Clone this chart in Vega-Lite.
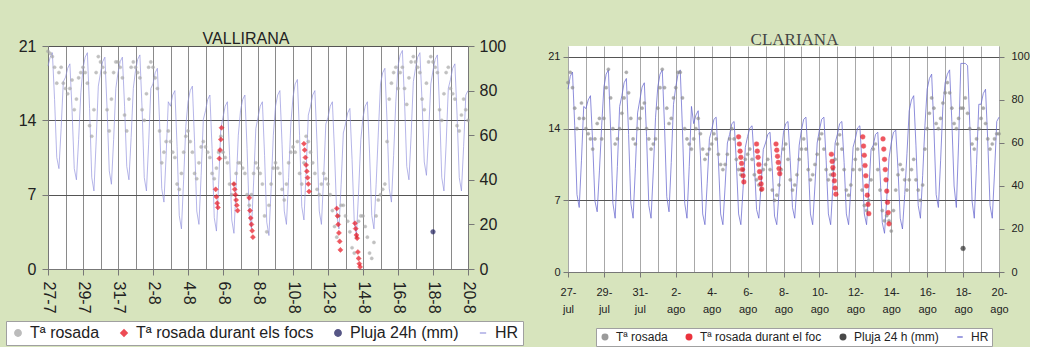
{
"$schema": "https://vega.github.io/schema/vega-lite/v6.json",
"background": "#d7e4bd",
"padding": {"left": 5, "top": 31, "right": 0, "bottom": 0},
"spacing": 23,
"datasets": {
"L": [
{"t":"072700","d":20.5,"h":91},{"t":"072703","d":20.3,"h":95},{"t":"072706","d":20,"h":97},{"t":"072709","d":19,"h":76},{"t":"072712","d":17.5,"h":50},{"t":"072715","d":18.5,"h":45},{"t":"072718","d":19,"h":63},{"t":"072721","d":17.5,"h":84},
{"t":"072800","d":17,"h":86},{"t":"072803","d":16.5,"h":90},{"t":"072806","d":17,"h":92},{"t":"072809","d":17.8,"h":71},{"t":"072812","d":15,"h":45},{"t":"072815","d":16,"h":40},{"t":"072818","d":18,"h":58},{"t":"072821","d":18.5,"h":79},
{"t":"072900","d":19,"h":90},{"t":"072903","d":18.5,"h":95},{"t":"072906","d":17.5,"h":97},{"t":"072909","d":13.5,"h":72},{"t":"072912","d":12.5,"h":41},{"t":"072915","d":15,"h":35},{"t":"072918","d":18.5,"h":57},{"t":"072921","d":20,"h":82},
{"t":"073000","d":19.5,"h":88},{"t":"073003","d":19,"h":93},{"t":"073006","d":18.5,"h":95},{"t":"073009","d":15,"h":72},{"t":"073012","d":13,"h":44},{"t":"073015","d":16,"h":38},{"t":"073018","d":18.5,"h":58},{"t":"073021","d":19.5,"h":81},
{"t":"073100","d":19.5,"h":88},{"t":"073103","d":19,"h":93},{"t":"073106","d":18,"h":95},{"t":"073109","d":14.5,"h":73},{"t":"073112","d":13,"h":46},{"t":"073115","d":16,"h":40},{"t":"073118","d":19,"h":59},{"t":"073121","d":19.5,"h":81},
{"t":"080100","d":19,"h":89},{"t":"080103","d":18.5,"h":94},{"t":"080106","d":18,"h":96},{"t":"080109","d":15,"h":72},{"t":"080112","d":14,"h":41},{"t":"080115","d":16.5,"h":35},{"t":"080118","d":19,"h":56},{"t":"080121","d":19.5,"h":81},
{"t":"080200","d":19,"h":83},{"t":"080203","d":18,"h":88},{"t":"080206","d":17,"h":90},{"t":"080209","d":13,"h":66},{"t":"080212","d":10,"h":36},{"t":"080215","d":11,"h":30},{"t":"080218","d":12,"h":51},{"t":"080221","d":13,"h":75},
{"t":"080300","d":12,"h":73},{"t":"080303","d":11,"h":78},{"t":"080306","d":10.5,"h":80},{"t":"080309","d":8,"h":55},{"t":"080312","d":7.5,"h":24},{"t":"080315","d":9,"h":18},{"t":"080318","d":11,"h":40},{"t":"080321","d":12.5,"h":64},
{"t":"080400","d":13,"h":75},{"t":"080403","d":12,"h":80},{"t":"080406","d":11,"h":82},{"t":"080409","d":9,"h":57},{"t":"080412","d":8.5,"h":26},{"t":"080415","d":10,"h":20},{"t":"080418","d":11.5,"h":42},{"t":"080421","d":12,"h":67},
{"t":"080500","d":11.5,"h":71},{"t":"080503","d":11,"h":76},{"t":"080506","d":10.5,"h":78},{"t":"080509","d":9,"h":54},{"t":"080512","d":8.5,"h":23},{"t":"080515","d":9.5,"h":17},{"t":"080518","d":11,"h":38},{"t":"080521","d":12.5,"h":63},
{"t":"080600","d":11,"h":68},{"t":"080603","d":10.5,"h":73},{"t":"080606","d":10,"h":75},{"t":"080609","d":8,"h":51},{"t":"080612","d":7,"h":22},{"t":"080615","d":8,"h":16},{"t":"080618","d":9,"h":37},{"t":"080621","d":10,"h":60},
{"t":"080700","d":10,"h":71},{"t":"080703","d":9.5,"h":76},{"t":"080706","d":9,"h":78},{"t":"080709","d":7,"h":54},{"t":"080712","d":6,"h":24},{"t":"080715","d":7,"h":18},{"t":"080718","d":9,"h":39},{"t":"080721","d":10,"h":63},
{"t":"080800","d":9.5,"h":68},{"t":"080803","d":9,"h":73},{"t":"080806","d":8,"h":75},{"t":"080809","d":5,"h":51},{"t":"080812","d":3.5,"h":21},{"t":"080815","d":6,"h":15},{"t":"080818","d":8,"h":36},{"t":"080821","d":9.5,"h":60},
{"t":"080900","d":10,"h":73},{"t":"080903","d":9.5,"h":78},{"t":"080906","d":9,"h":80},{"t":"080909","d":7.5,"h":56},{"t":"080912","d":6.5,"h":26},{"t":"080915","d":8,"h":20},{"t":"080918","d":10,"h":41},{"t":"080921","d":11,"h":65},
{"t":"081000","d":11.5,"h":77},{"t":"081003","d":11,"h":83},{"t":"081006","d":12,"h":85},{"t":"081009","d":9,"h":60},{"t":"081012","d":8,"h":28},{"t":"081015","d":10,"h":22},{"t":"081018","d":12.5,"h":44},{"t":"081021","d":12,"h":69},
{"t":"081100","d":11,"h":73},{"t":"081103","d":10,"h":78},{"t":"081106","d":9,"h":80},{"t":"081109","d":7.5,"h":56},{"t":"081112","d":7,"h":26},{"t":"081115","d":8,"h":20},{"t":"081118","d":9,"h":41},{"t":"081121","d":8.5,"h":65},
{"t":"081200","d":8,"h":68},{"t":"081203","d":7,"h":73},{"t":"081206","d":5.5,"h":75},{"t":"081209","d":4,"h":52},{"t":"081212","d":3,"h":24},{"t":"081215","d":5,"h":18},{"t":"081218","d":6,"h":38},{"t":"081221","d":6,"h":61},
{"t":"081300","d":5,"h":65},{"t":"081303","d":4.5,"h":70},{"t":"081306","d":3.5,"h":72},{"t":"081309","d":2,"h":49},{"t":"081312","d":1.5,"h":21},{"t":"081315","d":3,"h":15},{"t":"081318","d":4.5,"h":35},{"t":"081321","d":5,"h":58},
{"t":"081400","d":5,"h":68},{"t":"081403","d":4,"h":73},{"t":"081406","d":3,"h":75},{"t":"081409","d":1.5,"h":52},{"t":"081412","d":1,"h":24},{"t":"081415","d":2.5,"h":18},{"t":"081418","d":5,"h":38},{"t":"081421","d":6.5,"h":61},
{"t":"081500","d":7,"h":83},{"t":"081503","d":7.5,"h":88},{"t":"081506","d":8,"h":90},{"t":"081509","d":12,"h":66},{"t":"081512","d":16,"h":36},{"t":"081515","d":17.5,"h":30},{"t":"081518","d":18.5,"h":51},{"t":"081521","d":19,"h":75},
{"t":"081600","d":17,"h":91},{"t":"081603","d":18.5,"h":96},{"t":"081606","d":19,"h":98},{"t":"081609","d":17,"h":75},{"t":"081612","d":15.5,"h":46},{"t":"081615","d":18,"h":40},{"t":"081618","d":19.5,"h":60},{"t":"081621","d":20,"h":84},
{"t":"081700","d":19.5,"h":90},{"t":"081703","d":19,"h":95},{"t":"081706","d":18.5,"h":97},{"t":"081709","d":16,"h":75},{"t":"081712","d":15,"h":48},{"t":"081715","d":17.5,"h":42},{"t":"081718","d":19.5,"h":61},{"t":"081721","d":20,"h":83},
{"t":"081800","d":19.5,"h":89},{"t":"081803","d":19,"h":94},{"t":"081806","d":18.5,"h":96},{"t":"081809","d":15,"h":72},{"t":"081812","d":14,"h":41},{"t":"081815","d":16.5,"h":35},{"t":"081818","d":18.5,"h":56},{"t":"081821","d":19,"h":81},
{"t":"081900","d":17,"h":85},{"t":"081903","d":16.5,"h":90},{"t":"081906","d":16,"h":92},{"t":"081909","d":13.5,"h":69},{"t":"081912","d":13,"h":41},{"t":"081915","d":14.5,"h":35},{"t":"081918","d":16,"h":55},{"t":"081921","d":15,"h":78},
{"t":"082000","d":14,"h":80},
{"t":"080514","d":7.5,"s":"f"},{"t":"080515","d":6.8,"s":"f"},{"t":"080516","d":6.2,"s":"f"},{"t":"080517","d":5.8,"s":"f"},{"t":"080519","d":10.4,"s":"f"},{"t":"080520","d":11.2,"s":"f"},{"t":"080521","d":12.2,"s":"f"},{"t":"080522","d":13.3,"s":"f"},
{"t":"080615","d":8.0,"s":"f"},{"t":"080616","d":7.5,"s":"f"},{"t":"080617","d":7.0,"s":"f"},{"t":"080618","d":6.5,"s":"f"},{"t":"080619","d":6.0,"s":"f"},{"t":"080620","d":5.5,"s":"f"},
{"t":"080712","d":6.7,"s":"f"},{"t":"080713","d":5.5,"s":"f"},{"t":"080714","d":4.8,"s":"f"},{"t":"080715","d":4.2,"s":"f"},{"t":"080716","d":3.6,"s":"f"},{"t":"080717","d":3.0,"s":"f"},
{"t":"081015","d":11.8,"s":"f"},{"t":"081016","d":11.2,"s":"f"},{"t":"081017","d":10.5,"s":"f"},{"t":"081018","d":9.8,"s":"f"},{"t":"081019","d":9.2,"s":"f"},{"t":"081020","d":8.6,"s":"f"},{"t":"081021","d":8.0,"s":"f"},{"t":"081022","d":7.3,"s":"f"},
{"t":"081212","d":5.7,"s":"f"},{"t":"081213","d":5.0,"s":"f"},{"t":"081214","d":4.2,"s":"f"},{"t":"081215","d":3.4,"s":"f"},{"t":"081216","d":2.6,"s":"f"},{"t":"081217","d":1.8,"s":"f"},
{"t":"081313","d":4.3,"s":"f"},{"t":"081314","d":3.8,"s":"f"},{"t":"081315","d":3.2,"s":"f"},{"t":"081316","d":2.9,"s":"f"},{"t":"081317","d":1.6,"s":"f"},{"t":"081318","d":1.0,"s":"f"},{"t":"081319","d":0.5,"s":"f"},{"t":"081320","d":0.2,"s":"f"},
{"t":"081800","d":3.5,"s":"p"}
],
"R": [
{"t":"072700","d":18.5,"h":85},{"t":"072703","d":19.5,"h":91},{"t":"072706","d":18,"h":93},{"t":"072709","d":16,"h":68},{"t":"072712","d":14,"h":36},{"t":"072715","d":15,"h":30},{"t":"072718","d":16.5,"h":52},{"t":"072721","d":15,"h":77},
{"t":"072800","d":14,"h":76},{"t":"072803","d":13.5,"h":80},{"t":"072806","d":13,"h":82},{"t":"072809","d":12,"h":60},{"t":"072812","d":13,"h":33},{"t":"072815","d":14.5,"h":28},{"t":"072818","d":15,"h":47},{"t":"072821","d":13,"h":68},
{"t":"072900","d":15,"h":86},{"t":"072903","d":18,"h":92},{"t":"072906","d":19.8,"h":94},{"t":"072909","d":17,"h":66},{"t":"072912","d":14,"h":32},{"t":"072915","d":12.5,"h":25},{"t":"072918","d":13,"h":49},{"t":"072921","d":14,"h":77},
{"t":"073000","d":15.5,"h":82},{"t":"073003","d":17,"h":88},{"t":"073006","d":19.5,"h":90},{"t":"073009","d":17.5,"h":64},{"t":"073012","d":15,"h":32},{"t":"073015","d":13,"h":25},{"t":"073018","d":12.5,"h":48},{"t":"073021","d":14,"h":74},
{"t":"073100","d":15,"h":80},{"t":"073103","d":16,"h":86},{"t":"073106","d":16.5,"h":88},{"t":"073109","d":14,"h":63},{"t":"073112","d":13,"h":31},{"t":"073115","d":12,"h":25},{"t":"073118","d":12.5,"h":47},{"t":"073121","d":13,"h":72},
{"t":"080100","d":16,"h":86},{"t":"080103","d":18,"h":92},{"t":"080106","d":19.8,"h":94},{"t":"080109","d":18,"h":68},{"t":"080112","d":16,"h":35},{"t":"080115","d":14.5,"h":28},{"t":"080118","d":15,"h":51},{"t":"080121","d":17,"h":78},
{"t":"080200","d":18,"h":86},{"t":"080203","d":19.5,"h":92},{"t":"080206","d":19.5,"h":94},{"t":"080209","d":17,"h":66},{"t":"080212","d":14,"h":32},{"t":"080215","d":13,"h":25},{"t":"080218","d":12.5,"h":49},{"t":"080221","d":12,"h":77},
{"t":"080300","d":13,"h":69},{"t":"080303","d":14,"h":73},{"t":"080306","d":15,"h":75},{"t":"080309","d":13.5,"h":54},{"t":"080312","d":12,"h":27},{"t":"080315","d":11,"h":22},{"t":"080318","d":11.5,"h":41},{"t":"080321","d":12,"h":62},
{"t":"080400","d":12.5,"h":66},{"t":"080403","d":13.5,"h":71},{"t":"080406","d":13,"h":72},{"t":"080409","d":11.5,"h":52},{"t":"080412","d":10.5,"h":27},{"t":"080415","d":10,"h":22},{"t":"080418","d":10.5,"h":40},{"t":"080421","d":11.5,"h":60},
{"t":"080500","d":13,"h":64},{"t":"080503","d":14,"h":69},{"t":"080506","d":13,"h":70},{"t":"080509","d":11,"h":51},{"t":"080512","d":10,"h":27},{"t":"080515","d":9.5,"h":22},{"t":"080518","d":10,"h":39},{"t":"080521","d":11,"h":58},
{"t":"080600","d":11.5,"h":63},{"t":"080603","d":12,"h":67},{"t":"080606","d":11,"h":68},{"t":"080609","d":9.5,"h":51},{"t":"080612","d":9,"h":29},{"t":"080615","d":8.5,"h":25},{"t":"080618","d":8,"h":40},{"t":"080621","d":10,"h":57},
{"t":"080700","d":10.5,"h":60},{"t":"080703","d":11,"h":64},{"t":"080706","d":10,"h":65},{"t":"080709","d":8,"h":48},{"t":"080712","d":7,"h":26},{"t":"080715","d":7.5,"h":22},{"t":"080718","d":8.5,"h":37},{"t":"080721","d":10,"h":54},
{"t":"080800","d":12,"h":65},{"t":"080803","d":12.5,"h":69},{"t":"080806","d":11,"h":70},{"t":"080809","d":9,"h":52},{"t":"080812","d":8,"h":30},{"t":"080815","d":8.5,"h":25},{"t":"080818","d":9.5,"h":41},{"t":"080821","d":11,"h":59},
{"t":"080900","d":12,"h":66},{"t":"080903","d":13,"h":71},{"t":"080906","d":12,"h":72},{"t":"080909","d":10,"h":52},{"t":"080912","d":9,"h":27},{"t":"080915","d":9.5,"h":22},{"t":"080918","d":10.5,"h":40},{"t":"080921","d":11.5,"h":60},
{"t":"081000","d":13,"h":66},{"t":"081003","d":13.5,"h":71},{"t":"081006","d":12,"h":72},{"t":"081009","d":10,"h":52},{"t":"081012","d":9,"h":27},{"t":"081015","d":9.5,"h":22},{"t":"081018","d":10,"h":40},{"t":"081021","d":11,"h":60},
{"t":"081100","d":12.5,"h":64},{"t":"081103","d":13.4,"h":69},{"t":"081106","d":12,"h":70},{"t":"081109","d":10,"h":51},{"t":"081112","d":8,"h":27},{"t":"081115","d":7.5,"h":22},{"t":"081118","d":8.5,"h":39},{"t":"081121","d":10,"h":58},
{"t":"081200","d":11,"h":62},{"t":"081203","d":12,"h":67},{"t":"081206","d":10,"h":68},{"t":"081209","d":8,"h":50},{"t":"081212","d":6.5,"h":27},{"t":"081215","d":6,"h":22},{"t":"081218","d":7,"h":38},{"t":"081221","d":9,"h":57},
{"t":"081300","d":12,"h":59},{"t":"081303","d":12.5,"h":64},{"t":"081306","d":10,"h":65},{"t":"081309","d":8,"h":46},{"t":"081312","d":6,"h":23},{"t":"081315","d":5,"h":18},{"t":"081318","d":5.5,"h":34},{"t":"081321","d":5,"h":53},
{"t":"081400","d":4,"h":60},{"t":"081403","d":6,"h":65},{"t":"081406","d":8,"h":66},{"t":"081409","d":9.5,"h":48},{"t":"081412","d":10.5,"h":25},{"t":"081415","d":10,"h":20},{"t":"081418","d":9,"h":36},{"t":"081421","d":8,"h":55},
{"t":"081500","d":9,"h":75},{"t":"081503","d":10,"h":80},{"t":"081506","d":11,"h":82},{"t":"081509","d":9,"h":59},{"t":"081512","d":8,"h":31},{"t":"081515","d":7,"h":25},{"t":"081518","d":8.5,"h":45},{"t":"081521","d":12,"h":68},
{"t":"081600","d":14,"h":85},{"t":"081603","d":15.5,"h":90},{"t":"081606","d":17,"h":92},{"t":"081609","d":16,"h":67},{"t":"081612","d":14.5,"h":36},{"t":"081615","d":14,"h":30},{"t":"081618","d":15,"h":52},{"t":"081621","d":16.5,"h":77},
{"t":"081700","d":17.5,"h":88},{"t":"081703","d":18.5,"h":92},{"t":"081706","d":17.5,"h":94},{"t":"081709","d":16,"h":70},{"t":"081712","d":14.5,"h":40},{"t":"081715","d":14,"h":30},{"t":"081718","d":15,"h":60},{"t":"081721","d":16,"h":97},
{"t":"081800","d":16,"h":97},{"t":"081803","d":17,"h":97},{"t":"081806","d":15.5,"h":96},{"t":"081809","d":14,"h":68},{"t":"081812","d":12.5,"h":33},{"t":"081815","d":12,"h":25},{"t":"081818","d":13,"h":50},{"t":"081821","d":14,"h":78},
{"t":"081900","d":15,"h":78},{"t":"081903","d":16,"h":83},{"t":"081906","d":14.5,"h":85},{"t":"081909","d":13,"h":61},{"t":"081912","d":12,"h":31},{"t":"081915","d":12.5,"h":25},{"t":"081918","d":13,"h":46},{"t":"081921","d":13.5,"h":70},
{"t":"082000","d":13.5,"h":72},
{"t":"080512","d":13.2,"s":"f"},{"t":"080513","d":12.5,"s":"f"},{"t":"080514","d":11.8,"s":"f"},{"t":"080515","d":11.2,"s":"f"},{"t":"080516","d":10.6,"s":"f"},{"t":"080517","d":10.0,"s":"f"},{"t":"080518","d":9.4,"s":"f"},{"t":"080519","d":8.8,"s":"f"},
{"t":"080612","d":12.5,"s":"f"},{"t":"080613","d":11.8,"s":"f"},{"t":"080614","d":11.2,"s":"f"},{"t":"080615","d":10.5,"s":"f"},{"t":"080616","d":9.8,"s":"f"},{"t":"080617","d":9.2,"s":"f"},{"t":"080618","d":8.6,"s":"f"},{"t":"080619","d":8.1,"s":"f"},
{"t":"080714","d":12.5,"s":"f"},{"t":"080715","d":11.9,"s":"f"},{"t":"080716","d":11.3,"s":"f"},{"t":"080717","d":10.7,"s":"f"},{"t":"080718","d":10.1,"s":"f"},{"t":"080719","d":9.6,"s":"f"},
{"t":"081016","d":11.5,"s":"f"},{"t":"081017","d":10.8,"s":"f"},{"t":"081018","d":10.2,"s":"f"},{"t":"081019","d":9.5,"s":"f"},{"t":"081020","d":8.9,"s":"f"},{"t":"081021","d":8.2,"s":"f"},{"t":"081022","d":7.6,"s":"f"},
{"t":"081210","d":13.2,"s":"f"},{"t":"081211","d":12.3,"s":"f"},{"t":"081212","d":11.4,"s":"f"},{"t":"081213","d":10.4,"s":"f"},{"t":"081214","d":9.4,"s":"f"},{"t":"081215","d":8.4,"s":"f"},{"t":"081216","d":7.5,"s":"f"},{"t":"081217","d":6.6,"s":"f"},{"t":"081218","d":5.7,"s":"f"},
{"t":"081313","d":13.0,"s":"f"},{"t":"081314","d":12.0,"s":"f"},{"t":"081315","d":11.0,"s":"f"},{"t":"081316","d":10.0,"s":"f"},{"t":"081317","d":9.0,"s":"f"},{"t":"081318","d":7.9,"s":"f"},{"t":"081319","d":6.8,"s":"f"},{"t":"081320","d":5.8,"s":"f"},{"t":"081321","d":4.7,"s":"f"},
{"t":"081800","d":2.3,"s":"p"}
]
},
"hconcat": [
{
"width": 420, "height": 223,
"data": {"name": "L", "format": {"parse": {"t": "date:'%m%d%H'"}}},
"title": {"text": "VALLIRANA", "font": "Liberation Sans", "fontSize": 16, "fontWeight": "normal", "color": "#222", "dx": -12, "offset": -9},
"encoding": {
"x": {"field": "t", "type": "temporal", "title": null,
"scale": {"domain": [{"year":1900,"month":7,"date":27},{"year":1900,"month":8,"date":20}], "nice": false},
"axis": {"tickCount": {"interval": "day", "step": 1}, "grid": true, "gridColor": "#8a8a8a", "gridWidth": 1,
"labelExpr": "(month(datum.value)==6 && date(datum.value)%2==1) || (month(datum.value)==7 && date(datum.value)%2==0) ? timeFormat(datum.value,'%-d-%-m') : ''",
"labelAngle": 90, "labelAlign": "left", "labelBaseline": "middle", "labelFontSize": 16, "labelPadding": 6, "labelOverlap": false, "labelFlush": false,
"tickSize": 6, "tickOpacity": {"condition": {"test": "(month(datum.value)==6 && date(datum.value)%2==1) || (month(datum.value)==7 && date(datum.value)%2==0)", "value": 1}, "value": 0}}}
},
"layer": [
{"transform": [{"filter": "!datum.s"}],
"mark": {"type": "line", "strokeWidth": 0.9, "opacity": 0.75},
"encoding": {
"y": {"field": "h", "type": "quantitative", "title": null, "scale": {"domain": [0, 100], "nice": false},
"axis": {"orient": "right", "values": [0,20,40,60,80,100], "grid": false, "labelFontSize": 16, "tickSize": 6, "labelPadding": 5}},
"stroke": {"datum": "HR", "type": "nominal",
"scale": {"domain": ["Tª rosada","Tª rosada durant els focs","Pluja 24h (mm)","HR"], "range": ["#a6a6a6","#e8101c","#1f1f5e","#9090dc"]},
"legend": {"title": null, "orient": "none", "legendX": -42, "legendY": 275, "direction": "horizontal", "columns": 4, "fillColor": "white", "strokeColor": "#a0a0a0", "padding": 4, "labelFontSize": 16, "labelFont": "Liberation Sans", "labelColor": "#222", "labelLimit": 400, "symbolSize": 40, "columnPadding": 16, "labelOffset": 4, "symbolStrokeWidth": 1.5}}
}},
{"transform": [{"filter": "!datum.s"}],
"mark": {"type": "point", "size": 10, "strokeWidth": 0.5},
"encoding": {
"y": {"field": "d", "type": "quantitative", "title": null, "scale": {"domain": [0, 21], "nice": false},
"axis": {"orient": "left", "values": [0,7,14,21], "grid": true, "gridColor": "#555", "gridWidth": 1, "labelFontSize": 16, "tickSize": 6, "labelPadding": 6}},
"fill": {"datum": "Tª rosada", "type": "nominal",
"scale": {"domain": ["Tª rosada","Tª rosada durant els focs","Pluja 24h (mm)","HR"], "range": ["#a6a6a6","#e8101c","#1f1f5e","#9090dc"]},
"legend": {"title": null, "orient": "none", "legendX": -42, "legendY": 275, "direction": "horizontal", "columns": 4, "fillColor": "white", "strokeColor": "#a0a0a0", "padding": 4, "labelFontSize": 16, "labelFont": "Liberation Sans", "labelColor": "#222", "labelLimit": 400, "symbolSize": 40, "columnPadding": 16, "labelOffset": 4, "symbolStrokeWidth": 1.5}},
"stroke": {"datum": "Tª rosada", "type": "nominal"},
"shape": {"datum": "Tª rosada", "type": "nominal",
"scale": {"domain": ["Tª rosada","Tª rosada durant els focs","Pluja 24h (mm)","HR"], "range": ["circle","diamond","circle","stroke"]},
"legend": {"title": null, "orient": "none", "legendX": -42, "legendY": 275, "direction": "horizontal", "columns": 4, "fillColor": "white", "strokeColor": "#a0a0a0", "padding": 4, "labelFontSize": 16, "labelFont": "Liberation Sans", "labelColor": "#222", "labelLimit": 400, "symbolSize": 40, "columnPadding": 16, "labelOffset": 4, "symbolStrokeWidth": 1.5}}
}},
{"transform": [{"filter": "datum.s == 'f'"}],
"mark": {"type": "point", "size": 26, "strokeWidth": 0.5},
"encoding": {
"y": {"field": "d", "type": "quantitative", "scale": {"domain": [0, 21], "nice": false}, "axis": null},
"fill": {"datum": "Tª rosada durant els focs", "type": "nominal"},
"stroke": {"datum": "Tª rosada durant els focs", "type": "nominal"},
"shape": {"datum": "Tª rosada durant els focs", "type": "nominal"}
}},
{"transform": [{"filter": "datum.s == 'p'"}],
"mark": {"type": "point", "size": 22, "strokeWidth": 0.5},
"encoding": {
"y": {"field": "d", "type": "quantitative", "scale": {"domain": [0, 21], "nice": false}, "axis": null},
"fill": {"datum": "Pluja 24h (mm)", "type": "nominal"},
"stroke": {"datum": "Pluja 24h (mm)", "type": "nominal"},
"shape": {"datum": "Pluja 24h (mm)", "type": "nominal"}
}}
],
"resolve": {"scale": {"y": "independent"}}
},
{
"width": 431, "height": 226,
"data": {"name": "R", "format": {"parse": {"t": "date:'%m%d%H'"}}},
"title": {"text": "CLARIANA", "font": "Liberation Serif", "fontSize": 17, "fontWeight": "normal", "color": "#444", "dx": 11, "offset": -3},
"encoding": {
"x": {"field": "t", "type": "temporal", "title": null,
"scale": {"domain": [{"year":1900,"month":7,"date":27},{"year":1900,"month":8,"date":20}], "nice": false},
"axis": {"tickCount": {"interval": "day", "step": 1}, "grid": true, "gridColor": "#a8a8a8", "gridWidth": 1,
"labelExpr": "(month(datum.value)==6 && date(datum.value)%2==1) || (month(datum.value)==7 && date(datum.value)%2==0) ? [timeFormat(datum.value,'%-d') + '-', month(datum.value)==6 ? 'jul' : 'ago'] : ''",
"labelAngle": 0, "labelAlign": "center", "labelBaseline": "top", "labelFontSize": 11, "labelLineHeight": 17, "labelPadding": 9, "labelOverlap": false, "labelFlush": false,
"tickSize": 5, "tickOpacity": {"condition": {"test": "(month(datum.value)==6 && date(datum.value)%2==1) || (month(datum.value)==7 && date(datum.value)%2==0)", "value": 1}, "value": 0}}}
},
"layer": [
{"transform": [{"filter": "!datum.s"}],
"mark": {"type": "line", "strokeWidth": 0.9, "opacity": 0.85},
"encoding": {
"y": {"field": "h", "type": "quantitative", "title": null, "scale": {"domain": [0, 105.1], "nice": false},
"axis": {"orient": "right", "values": [0,20,40,60,80,100], "grid": false, "domain": false, "labelFontSize": 11, "tickSize": 5, "labelPadding": 7}},
"stroke": {"datum": "HR", "type": "nominal",
"scale": {"domain": ["Tª rosada","Tª rosada durant el foc","Pluja 24 h (mm)","HR"], "range": ["#8a8a8a","#e8101c","#2a2a2a","#6a6ad0"]},
"legend": {"title": null, "orient": "none", "legendX": 28, "legendY": 282, "direction": "horizontal", "columns": 4, "fillColor": "white", "strokeColor": "#a0a0a0", "padding": 3, "labelFontSize": 12, "labelFont": "Liberation Sans", "labelColor": "#222", "labelLimit": 400, "symbolSize": 30, "columnPadding": 15, "labelOffset": 5, "symbolStrokeWidth": 1.5}}
}},
{"transform": [{"filter": "!datum.s"}],
"mark": {"type": "point", "size": 10, "strokeWidth": 0.5},
"encoding": {
"y": {"field": "d", "type": "quantitative", "title": null, "scale": {"domain": [0, 22.07], "nice": false},
"axis": {"orient": "left", "values": [0,7,14,21], "grid": true, "gridColor": "#555", "gridWidth": 1, "domain": false, "labelFontSize": 11, "tickSize": 5, "labelPadding": 3}},
"fill": {"datum": "Tª rosada", "type": "nominal",
"scale": {"domain": ["Tª rosada","Tª rosada durant el foc","Pluja 24 h (mm)","HR"], "range": ["#8a8a8a","#e8101c","#2a2a2a","#6a6ad0"]},
"legend": {"title": null, "orient": "none", "legendX": 28, "legendY": 282, "direction": "horizontal", "columns": 4, "fillColor": "white", "strokeColor": "#a0a0a0", "padding": 3, "labelFontSize": 12, "labelFont": "Liberation Sans", "labelColor": "#222", "labelLimit": 400, "symbolSize": 30, "columnPadding": 15, "labelOffset": 5, "symbolStrokeWidth": 1.5}},
"stroke": {"datum": "Tª rosada", "type": "nominal"},
"shape": {"datum": "Tª rosada", "type": "nominal",
"scale": {"domain": ["Tª rosada","Tª rosada durant el foc","Pluja 24 h (mm)","HR"], "range": ["circle","circle","circle","stroke"]},
"legend": {"title": null, "orient": "none", "legendX": 28, "legendY": 282, "direction": "horizontal", "columns": 4, "fillColor": "white", "strokeColor": "#a0a0a0", "padding": 3, "labelFontSize": 12, "labelFont": "Liberation Sans", "labelColor": "#222", "labelLimit": 400, "symbolSize": 30, "columnPadding": 15, "labelOffset": 5, "symbolStrokeWidth": 1.5}}
}},
{"transform": [{"filter": "datum.s == 'f'"}],
"mark": {"type": "point", "size": 22, "strokeWidth": 0.5},
"encoding": {
"y": {"field": "d", "type": "quantitative", "scale": {"domain": [0, 22.07], "nice": false}, "axis": null},
"fill": {"datum": "Tª rosada durant el foc", "type": "nominal"},
"stroke": {"datum": "Tª rosada durant el foc", "type": "nominal"},
"shape": {"datum": "Tª rosada durant el foc", "type": "nominal"}
}},
{"transform": [{"filter": "datum.s == 'p'"}],
"mark": {"type": "point", "size": 22, "strokeWidth": 0.5},
"encoding": {
"y": {"field": "d", "type": "quantitative", "scale": {"domain": [0, 22.07], "nice": false}, "axis": null},
"fill": {"datum": "Pluja 24 h (mm)", "type": "nominal"},
"stroke": {"datum": "Pluja 24 h (mm)", "type": "nominal"},
"shape": {"datum": "Pluja 24 h (mm)", "type": "nominal"}
}}
],
"resolve": {"scale": {"y": "independent"}}
}
],
"resolve": {"scale": {"x": "independent", "y": "independent", "fill": "independent", "stroke": "independent", "shape": "independent"}},
"config": {
"view": {"stroke": null, "fill": "white"},
"font": "Liberation Sans",
"axis": {"labelColor": "#222", "tickColor": "#777", "domainColor": "#777", "labelFont": "Liberation Sans"}
}
}
